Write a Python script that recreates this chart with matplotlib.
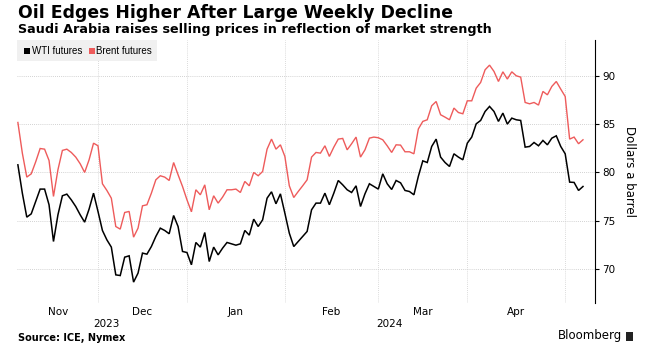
import numpy as np
import matplotlib
matplotlib.use("Agg")
import matplotlib.pyplot as plt
from matplotlib.patches import Rectangle
from matplotlib.transforms import blended_transform_factory

# trading days per month, Nov 2023 .. May 2024
month_names = ["Nov", "Dec", "Jan", "Feb", "Mar", "Apr", "May"]
month_days = [18, 20, 22, 21, 20, 22, 5]
years = ["2023", "2024"]
year_months = [2, 5]  # number of months belonging to each year

wti = [80.79, 77.86, 75.38, 75.72, 77.0, 78.28, 78.28, 76.66, 72.86, 75.62,
       77.59, 77.76, 77.17, 76.48, 75.62, 74.86, 76.21, 77.86, 75.97, 74.0,
       73.03, 72.28, 69.41, 69.34, 71.24, 71.38, 68.66, 69.59, 71.66, 71.55,
       72.34, 73.38, 74.24, 74.0, 73.66, 75.55, 74.41, 71.83, 71.72, 70.45,
       72.76, 72.28, 73.79, 70.79, 72.28, 71.48, 72.17, 72.76, 72.62, 72.48,
       72.62, 74.0, 73.52, 75.17, 74.41, 75.1, 77.34, 78.0, 76.76, 77.79,
       75.79, 73.72, 72.34, 72.86, 73.38, 73.9, 76.14, 76.83, 76.83, 77.86,
       76.66, 77.86, 79.17, 78.72, 78.21, 77.93, 78.62, 76.48, 77.79, 78.83,
       78.55, 78.28, 79.86, 78.83, 78.24, 79.17, 78.93, 78.14, 78.03, 77.69,
       79.6, 81.2, 81.03, 82.69, 83.45, 81.59, 81.03, 80.62, 81.93, 81.59,
       81.31, 83.03, 83.66, 85.03, 85.38, 86.31, 86.83, 86.31, 85.28, 86.14,
       85.0, 85.62, 85.45, 85.38, 82.62, 82.69, 83.1, 82.76, 83.31, 82.86,
       83.55, 83.79, 82.69, 81.93, 79.0, 78.97, 78.14, 78.55]

brent = [85.17, 82.0, 79.52, 79.86, 81.1, 82.48, 82.41, 81.24, 77.52, 80.28,
         82.28, 82.41, 82.07, 81.59, 80.9, 80.0, 81.31, 83.03, 82.76, 78.83,
         78.14, 77.34, 74.41, 74.14, 75.86, 75.97, 73.31, 74.24, 76.55, 76.66,
         77.86, 79.24, 79.66, 79.52, 79.17, 81.03, 79.76, 78.55, 77.17, 75.93,
         78.21, 77.69, 78.72, 76.14, 77.59, 76.83, 77.45, 78.21, 78.21, 78.28,
         77.93, 79.07, 78.62, 80.0, 79.66, 80.1, 82.41, 83.45, 82.41, 82.86,
         81.66, 78.62, 77.41, 78.03, 78.62, 79.24, 81.59, 82.07, 82.0, 82.76,
         81.66, 82.62, 83.45, 83.52, 82.34, 82.97, 83.66, 81.59, 82.34, 83.55,
         83.66, 83.59, 83.38, 82.76, 82.07, 82.86, 82.83, 82.14, 82.14, 81.93,
         84.5, 85.28, 85.45, 86.9, 87.34, 85.97, 85.72, 85.45, 86.66, 86.2,
         86.07, 87.41, 87.41, 88.72, 89.31, 90.62, 91.1, 90.45, 89.41, 90.41,
         89.66, 90.41, 90.0, 89.86, 87.24, 87.1, 87.24, 86.97, 88.38, 88.03,
         88.9, 89.41, 88.62, 87.86, 83.45, 83.66, 82.97, 83.38]

series_names = ["WTI futures", "Brent futures"]
colors = ["#000000", "#ee5b5b"]
y_ticks = [70, 75, 80, 85, 90]

W, H = 647, 355
fig = plt.figure(figsize=(W / 100, H / 100), dpi=100)
ax = fig.add_axes([17 / W, (H - 303) / H, (595 - 17) / W, (303 - 40) / H])

x = np.arange(len(wti))
ax.plot(x, brent, color=colors[1], lw=1.0, solid_joinstyle="miter")
ax.plot(x, wti, color=colors[0], lw=1.1, solid_joinstyle="miter")

ax.set_xlim(-0.2, 129.7)
ax.set_ylim(66.5, 93.7)

# grid
for v in y_ticks:
    ax.axhline(v, color="#c4c4c4", lw=0.6, ls=(0, (1, 1.5)), zorder=0)
bounds = np.concatenate([[0], np.cumsum(month_days)])
for b in bounds[1:-1]:
    ax.axvline(b, color="#cfcfcf", lw=0.6, ls=(0, (1, 1.5)), zorder=0)

# axes styling
for s in ["left", "top", "bottom"]:
    ax.spines[s].set_visible(False)
ax.spines["right"].set_linewidth(0.8)
ax.yaxis.tick_right()
ax.set_yticks(y_ticks)
ax.tick_params(axis="y", length=3, width=0.8, pad=2, labelsize=7.5)

centers = [(bounds[i] + bounds[i + 1]) / 2 for i in range(len(month_names) - 1)]
ax.set_xticks(centers)
ax.set_xticklabels(month_names[:-1], fontsize=7.5)
ax.tick_params(axis="x", length=0, pad=3)

trans = blended_transform_factory(ax.transData, fig.transFigure)
start = 0
for yr, nm in zip(years, year_months):
    end = min(bounds[start + nm], len(wti) - 1)
    ax.text((bounds[start] + end) / 2 + 1, (H - 324) / H, yr, transform=trans,
            ha="center", va="center", fontsize=7.5)
    start += nm

fig.text(629 / W, (H - 172) / H, "Dollars a barrel", rotation=-90,
         ha="center", va="center", fontsize=8.5)

# titles
fig.text(18 / W, (H - 17.5) / H, "Oil Edges Higher After Large Weekly Decline",
         fontsize=12.4, fontweight="bold", ha="left", va="baseline")
fig.text(18 / W, (H - 33.5) / H,
         "Saudi Arabia raises selling prices in reflection of market strength",
         fontsize=9.2, fontweight="bold", ha="left", va="baseline")

# legend box
fig.add_artist(Rectangle((17 / W, (H - 61) / H), 140 / W, 21 / H,
                         transform=fig.transFigure, facecolor="#f0f0f0",
                         edgecolor="none"))
leg_x = [24, 89]
for lx, name, c in zip(leg_x, series_names, colors):
    fig.add_artist(Rectangle((lx / W, (H - 54) / H), 6 / W, 6 / H,
                             transform=fig.transFigure, facecolor=c,
                             edgecolor="none"))
    fig.text((lx + 7.5) / W, (H - 51) / H, name, fontsize=7,
             family="Liberation Sans", ha="left", va="center")

# footer
fig.text(18 / W, (H - 338) / H, "Source: ICE, Nymex", fontsize=7,
         fontweight="bold", ha="left", va="center")
fig.text(622 / W, (H - 336) / H, "Bloomberg", fontsize=8.5,
         ha="right", va="center")
fig.add_artist(Rectangle((626 / W, (H - 341) / H), 7 / W, 9 / H,
                         transform=fig.transFigure, facecolor="#222222",
                         edgecolor="none"))

fig.savefig("out.png", dpi=100)
